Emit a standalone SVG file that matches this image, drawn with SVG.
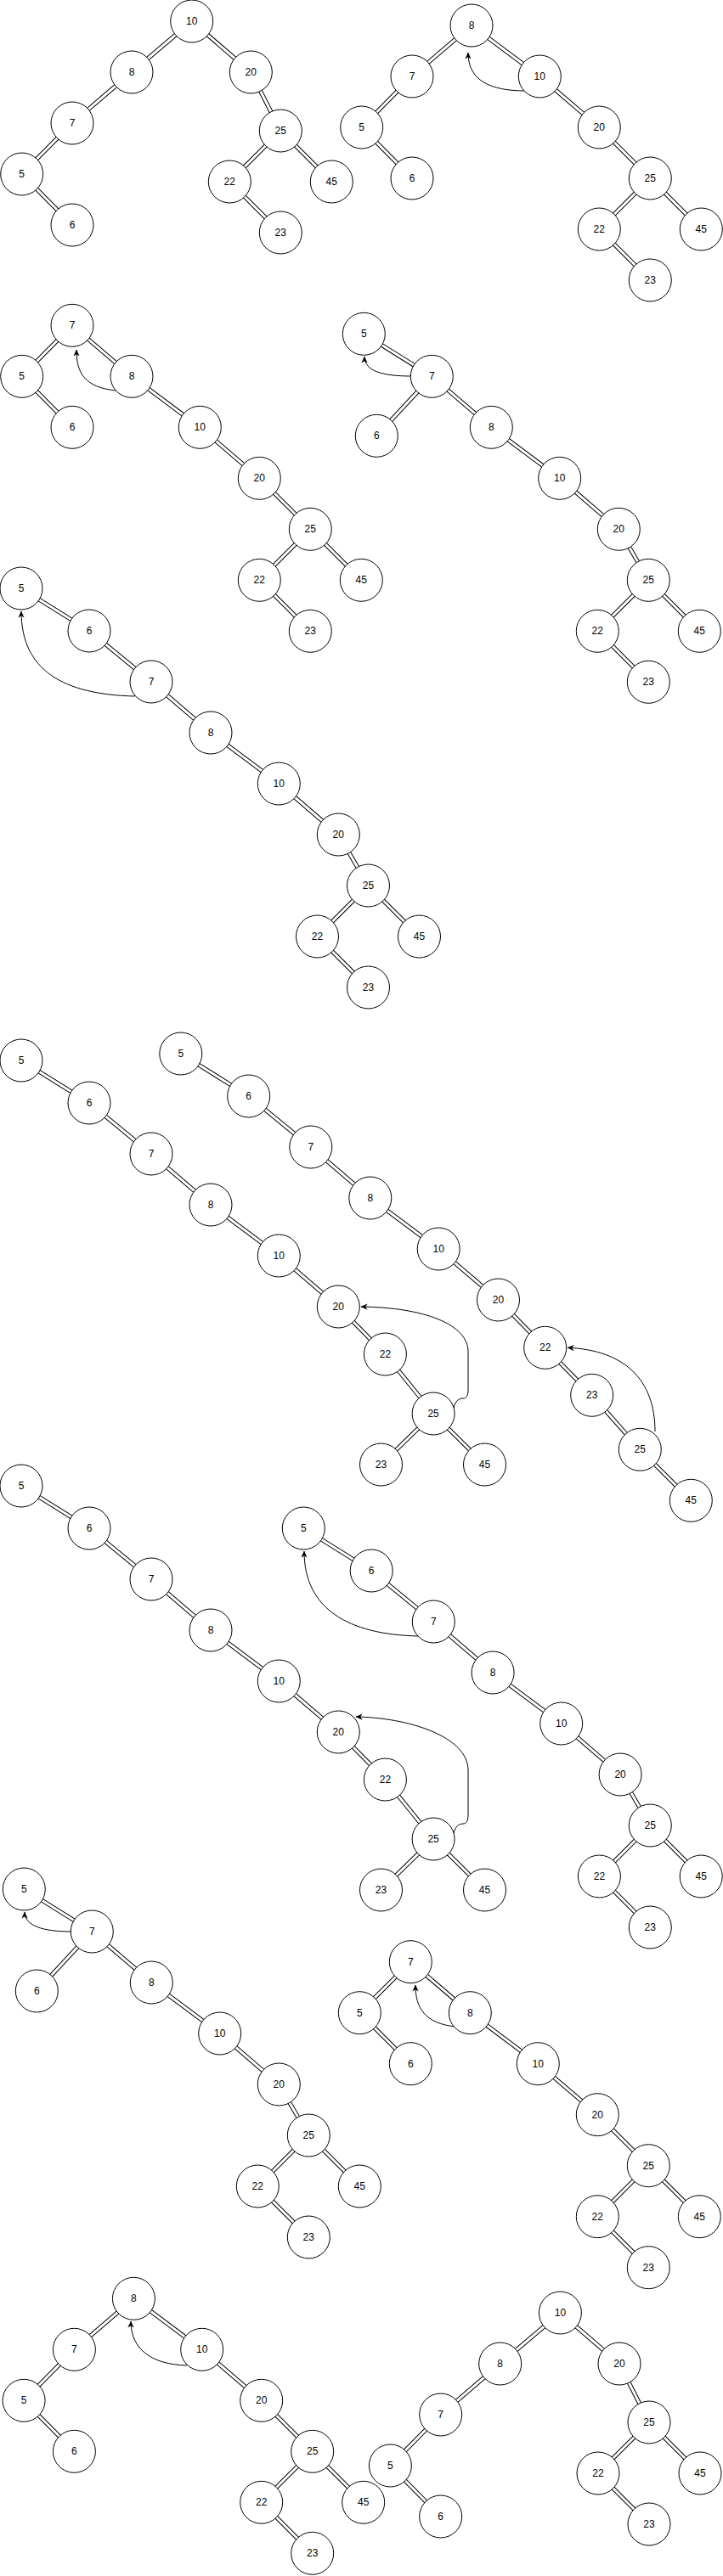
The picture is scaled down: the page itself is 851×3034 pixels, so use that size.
<svg xmlns="http://www.w3.org/2000/svg" xmlns:xlink="http://www.w3.org/1999/xlink" width="851" height="3034" viewBox="0 0 851 3034">
<style>
.o{fill:none;stroke:#000;stroke-width:5}
.i{fill:none;stroke:#fff;stroke-width:3}
.a{fill:none;stroke:#000;stroke-width:1;marker-end:url(#arr)}
g.n circle{fill:#fff;stroke:#000;stroke-width:1}
g.n text{font-family:"Liberation Sans",Arial,sans-serif;font-size:12px;text-anchor:middle;fill:#000}
</style>
<defs>
<marker id="arr" viewBox="0 0 10 10" refX="9.5" refY="5" markerWidth="8" markerHeight="8" markerUnits="userSpaceOnUse" orient="auto"><path d="M0,0.5 L10,5 L0,9.5 L3,5 z" fill="#000"/></marker>
<path id="e1" d="M225.7,25 L155,85 L85,145 L25.7,205 L85,265 M225.7,25 L295.3,85 L330.3,154 L270.3,214 L330.3,274 M330.3,154 L390.3,214"/>
<path id="e2" d="M555,30 L485,90 L425.7,150 L485,210 M555,30 L635.3,90 L705.3,150 L765.3,210 L705.3,270 L765.3,330 M765.3,210 L825.3,270"/>
<path id="e3" d="M85,383.3 L25.7,443.3 L85,503.3 M85,383.3 L155,443.3 L235.3,503.3 L305.3,563.3 L365.3,623.3 L305.3,683.3 L365.3,743.3 M365.3,623.3 L425.3,683.3"/>
<path id="e4" d="M428.3,393.3 L508.3,443.3 L443.3,513.3 M508.3,443.3 L578.3,503.3 L658.7,563.3 L728.3,623.3 L763.3,683.3 L703.3,743.3 L763.3,803.3 M763.3,683.3 L823.3,743.3"/>
<path id="e5" d="M25,693 L105,743 L178,803 L248,863 L328.3,923 L398.3,983 L433.5,1043 L373.5,1103 L433.5,1163 M433.5,1043 L493.5,1103"/>
<path id="e6" d="M25,1249 L105,1299 L178,1359 L248,1419 L328.3,1479 L398.3,1539 L453.4,1595 L510.1,1665 L448.5,1725 M510.1,1665 L570.5,1725"/>
<path id="e7" d="M212.8,1241 L292.7,1291 L365.8,1351 L435.8,1411 L516.2,1471 L586.5,1531 L641.7,1587.3 L696.7,1643.3 L753.3,1707.3 L813.3,1767.3"/>
<path id="e8" d="M25,1750 L105,1800 L178,1860 L248,1920 L328.3,1980 L398.3,2040 L453.4,2096 L510.1,2166 L448.5,2226 M510.1,2166 L570.5,2226"/>
<path id="e9" d="M357.3,1800 L437.2,1850 L510.3,1910 L580.1,1970 L660.7,2030 L730.1,2090 L765.3,2150 L705.4,2210 L765.3,2270 M765.3,2150 L825.2,2210"/>
<path id="e10" d="M28.3,2225 L108.3,2275 L43.3,2345 M108.3,2275 L178.3,2335 L258.7,2395 L328.3,2455 L363.3,2515 L303.3,2575 L363.3,2635 M363.3,2515 L423.3,2575"/>
<path id="e11" d="M483.3,2310.7 L423.3,2370.7 L483.3,2430.7 M483.3,2310.7 L553.3,2370.7 L633.3,2430.7 L703.3,2490.7 L763.3,2550.7 L703.3,2610.7 L763.3,2670.7 M763.3,2550.7 L823.3,2610.7"/>
<path id="e12" d="M157.4,2707.3 L87.4,2767.3 L28.1,2827.3 L87.4,2887.3 M157.4,2707.3 L237.7,2767.3 L307.7,2827.3 L367.7,2887.3 L307.7,2947.3 L367.7,3007.3 M367.7,2887.3 L427.7,2947.3"/>
<path id="e13" d="M659.4,2724 L588.7,2784 L518.7,2844 L459.4,2904 L518.7,2964 M659.4,2724 L729,2784 L764,2853 L704,2913 L764,2973 M764,2853 L824,2913"/>
</defs>
<g id="connectors">
<use xlink:href="#e1" class="o"/><use xlink:href="#e1" class="i"/>
<use xlink:href="#e2" class="o"/><use xlink:href="#e2" class="i"/>
<use xlink:href="#e3" class="o"/><use xlink:href="#e3" class="i"/>
<use xlink:href="#e4" class="o"/><use xlink:href="#e4" class="i"/>
<use xlink:href="#e5" class="o"/><use xlink:href="#e5" class="i"/>
<use xlink:href="#e6" class="o"/><use xlink:href="#e6" class="i"/>
<use xlink:href="#e7" class="o"/><use xlink:href="#e7" class="i"/>
<use xlink:href="#e8" class="o"/><use xlink:href="#e8" class="i"/>
<use xlink:href="#e9" class="o"/><use xlink:href="#e9" class="i"/>
<use xlink:href="#e10" class="o"/><use xlink:href="#e10" class="i"/>
<use xlink:href="#e11" class="o"/><use xlink:href="#e11" class="i"/>
<use xlink:href="#e12" class="o"/><use xlink:href="#e12" class="i"/>
<use xlink:href="#e13" class="o"/><use xlink:href="#e13" class="i"/>
<path class="a" d="M619,107 C577,107 551,95 551,62"/>
<path class="a" d="M136,460 C100,456 90,440 90,412"/>
<path class="a" d="M484,443 C450,443 429,437 429,420"/>
<path class="a" d="M159,820 C75,818 25,790 25,720"/>
<path class="a" d="M534,1658 C536,1650 540,1647 545,1647 C549,1647 551,1644 551,1636 L551,1592 C551,1560 500,1540 425,1539"/>
<path class="a" d="M771,1686 C771,1625 735,1590 668,1587.3"/>
<path class="a" d="M534,2159 C536,2151 540,2148 545,2148 C549,2148 551,2145 551,2137 L551,2085 C551,2045 480,2023 419,2022"/>
<path class="a" d="M492,1927 C410,1925 358,1895 358,1827"/>
<path class="a" d="M84,2275 C50,2275 29,2268 29,2252"/>
<path class="a" d="M536,2387 C500,2383 489,2365 489,2338"/>
<path class="a" d="M220,2786 C180,2785 154,2768 154,2734"/>
</g>
<g id="tree1">
<g class="n" id="t1-10"><circle cx="225.7" cy="25" r="25"/><text x="225.7" y="29">10</text></g>
<g class="n" id="t1-8"><circle cx="155" cy="85" r="25"/><text x="155" y="89">8</text></g>
<g class="n" id="t1-20"><circle cx="295.3" cy="85" r="25"/><text x="295.3" y="89">20</text></g>
<g class="n" id="t1-7"><circle cx="85" cy="145" r="25"/><text x="85" y="149">7</text></g>
<g class="n" id="t1-25"><circle cx="330.3" cy="154" r="25"/><text x="330.3" y="158">25</text></g>
<g class="n" id="t1-5"><circle cx="25.7" cy="205" r="25"/><text x="25.7" y="209">5</text></g>
<g class="n" id="t1-22"><circle cx="270.3" cy="214" r="25"/><text x="270.3" y="218">22</text></g>
<g class="n" id="t1-45"><circle cx="390.3" cy="214" r="25"/><text x="390.3" y="218">45</text></g>
<g class="n" id="t1-6"><circle cx="85" cy="265" r="25"/><text x="85" y="269">6</text></g>
<g class="n" id="t1-23"><circle cx="330.3" cy="274" r="25"/><text x="330.3" y="278">23</text></g>
</g>
<g id="tree2">
<g class="n" id="t2-8"><circle cx="555" cy="30" r="25"/><text x="555" y="34">8</text></g>
<g class="n" id="t2-7"><circle cx="485" cy="90" r="25"/><text x="485" y="94">7</text></g>
<g class="n" id="t2-10"><circle cx="635.3" cy="90" r="25"/><text x="635.3" y="94">10</text></g>
<g class="n" id="t2-5"><circle cx="425.7" cy="150" r="25"/><text x="425.7" y="154">5</text></g>
<g class="n" id="t2-20"><circle cx="705.3" cy="150" r="25"/><text x="705.3" y="154">20</text></g>
<g class="n" id="t2-6"><circle cx="485" cy="210" r="25"/><text x="485" y="214">6</text></g>
<g class="n" id="t2-25"><circle cx="765.3" cy="210" r="25"/><text x="765.3" y="214">25</text></g>
<g class="n" id="t2-22"><circle cx="705.3" cy="270" r="25"/><text x="705.3" y="274">22</text></g>
<g class="n" id="t2-45"><circle cx="825.3" cy="270" r="25"/><text x="825.3" y="274">45</text></g>
<g class="n" id="t2-23"><circle cx="765.3" cy="330" r="25"/><text x="765.3" y="334">23</text></g>
</g>
<g id="tree3">
<g class="n" id="t3-7"><circle cx="85" cy="383.3" r="25"/><text x="85" y="387.3">7</text></g>
<g class="n" id="t3-5"><circle cx="25.7" cy="443.3" r="25"/><text x="25.7" y="447.3">5</text></g>
<g class="n" id="t3-8"><circle cx="155" cy="443.3" r="25"/><text x="155" y="447.3">8</text></g>
<g class="n" id="t3-6"><circle cx="85" cy="503.3" r="25"/><text x="85" y="507.3">6</text></g>
<g class="n" id="t3-10"><circle cx="235.3" cy="503.3" r="25"/><text x="235.3" y="507.3">10</text></g>
<g class="n" id="t3-20"><circle cx="305.3" cy="563.3" r="25"/><text x="305.3" y="567.3">20</text></g>
<g class="n" id="t3-25"><circle cx="365.3" cy="623.3" r="25"/><text x="365.3" y="627.3">25</text></g>
<g class="n" id="t3-22"><circle cx="305.3" cy="683.3" r="25"/><text x="305.3" y="687.3">22</text></g>
<g class="n" id="t3-45"><circle cx="425.3" cy="683.3" r="25"/><text x="425.3" y="687.3">45</text></g>
<g class="n" id="t3-23"><circle cx="365.3" cy="743.3" r="25"/><text x="365.3" y="747.3">23</text></g>
</g>
<g id="tree4">
<g class="n" id="t4-5"><circle cx="428.3" cy="393.3" r="25"/><text x="428.3" y="397.3">5</text></g>
<g class="n" id="t4-7"><circle cx="508.3" cy="443.3" r="25"/><text x="508.3" y="447.3">7</text></g>
<g class="n" id="t4-6"><circle cx="443.3" cy="513.3" r="25"/><text x="443.3" y="517.3">6</text></g>
<g class="n" id="t4-8"><circle cx="578.3" cy="503.3" r="25"/><text x="578.3" y="507.3">8</text></g>
<g class="n" id="t4-10"><circle cx="658.7" cy="563.3" r="25"/><text x="658.7" y="567.3">10</text></g>
<g class="n" id="t4-20"><circle cx="728.3" cy="623.3" r="25"/><text x="728.3" y="627.3">20</text></g>
<g class="n" id="t4-25"><circle cx="763.3" cy="683.3" r="25"/><text x="763.3" y="687.3">25</text></g>
<g class="n" id="t4-22"><circle cx="703.3" cy="743.3" r="25"/><text x="703.3" y="747.3">22</text></g>
<g class="n" id="t4-45"><circle cx="823.3" cy="743.3" r="25"/><text x="823.3" y="747.3">45</text></g>
<g class="n" id="t4-23"><circle cx="763.3" cy="803.3" r="25"/><text x="763.3" y="807.3">23</text></g>
</g>
<g id="tree5">
<g class="n" id="t5-5"><circle cx="25" cy="693" r="25"/><text x="25" y="697">5</text></g>
<g class="n" id="t5-6"><circle cx="105" cy="743" r="25"/><text x="105" y="747">6</text></g>
<g class="n" id="t5-7"><circle cx="178" cy="803" r="25"/><text x="178" y="807">7</text></g>
<g class="n" id="t5-8"><circle cx="248" cy="863" r="25"/><text x="248" y="867">8</text></g>
<g class="n" id="t5-10"><circle cx="328.3" cy="923" r="25"/><text x="328.3" y="927">10</text></g>
<g class="n" id="t5-20"><circle cx="398.3" cy="983" r="25"/><text x="398.3" y="987">20</text></g>
<g class="n" id="t5-25"><circle cx="433.5" cy="1043" r="25"/><text x="433.5" y="1047">25</text></g>
<g class="n" id="t5-22"><circle cx="373.5" cy="1103" r="25"/><text x="373.5" y="1107">22</text></g>
<g class="n" id="t5-45"><circle cx="493.5" cy="1103" r="25"/><text x="493.5" y="1107">45</text></g>
<g class="n" id="t5-23"><circle cx="433.5" cy="1163" r="25"/><text x="433.5" y="1167">23</text></g>
</g>
<g id="tree6">
<g class="n" id="t6-5"><circle cx="25" cy="1249" r="25"/><text x="25" y="1253">5</text></g>
<g class="n" id="t6-6"><circle cx="105" cy="1299" r="25"/><text x="105" y="1303">6</text></g>
<g class="n" id="t6-7"><circle cx="178" cy="1359" r="25"/><text x="178" y="1363">7</text></g>
<g class="n" id="t6-8"><circle cx="248" cy="1419" r="25"/><text x="248" y="1423">8</text></g>
<g class="n" id="t6-10"><circle cx="328.3" cy="1479" r="25"/><text x="328.3" y="1483">10</text></g>
<g class="n" id="t6-20"><circle cx="398.3" cy="1539" r="25"/><text x="398.3" y="1543">20</text></g>
<g class="n" id="t6-22"><circle cx="453.4" cy="1595" r="25"/><text x="453.4" y="1599">22</text></g>
<g class="n" id="t6-25"><circle cx="510.1" cy="1665" r="25"/><text x="510.1" y="1669">25</text></g>
<g class="n" id="t6-23"><circle cx="448.5" cy="1725" r="25"/><text x="448.5" y="1729">23</text></g>
<g class="n" id="t6-45"><circle cx="570.5" cy="1725" r="25"/><text x="570.5" y="1729">45</text></g>
</g>
<g id="tree7">
<g class="n" id="t7-5"><circle cx="212.8" cy="1241" r="25"/><text x="212.8" y="1245">5</text></g>
<g class="n" id="t7-6"><circle cx="292.7" cy="1291" r="25"/><text x="292.7" y="1295">6</text></g>
<g class="n" id="t7-7"><circle cx="365.8" cy="1351" r="25"/><text x="365.8" y="1355">7</text></g>
<g class="n" id="t7-8"><circle cx="435.8" cy="1411" r="25"/><text x="435.8" y="1415">8</text></g>
<g class="n" id="t7-10"><circle cx="516.2" cy="1471" r="25"/><text x="516.2" y="1475">10</text></g>
<g class="n" id="t7-20"><circle cx="586.5" cy="1531" r="25"/><text x="586.5" y="1535">20</text></g>
<g class="n" id="t7-22"><circle cx="641.7" cy="1587.3" r="25"/><text x="641.7" y="1591.3">22</text></g>
<g class="n" id="t7-23"><circle cx="696.7" cy="1643.3" r="25"/><text x="696.7" y="1647.3">23</text></g>
<g class="n" id="t7-25"><circle cx="753.3" cy="1707.3" r="25"/><text x="753.3" y="1711.3">25</text></g>
<g class="n" id="t7-45"><circle cx="813.3" cy="1767.3" r="25"/><text x="813.3" y="1771.3">45</text></g>
</g>
<g id="tree8">
<g class="n" id="t8-5"><circle cx="25" cy="1750" r="25"/><text x="25" y="1754">5</text></g>
<g class="n" id="t8-6"><circle cx="105" cy="1800" r="25"/><text x="105" y="1804">6</text></g>
<g class="n" id="t8-7"><circle cx="178" cy="1860" r="25"/><text x="178" y="1864">7</text></g>
<g class="n" id="t8-8"><circle cx="248" cy="1920" r="25"/><text x="248" y="1924">8</text></g>
<g class="n" id="t8-10"><circle cx="328.3" cy="1980" r="25"/><text x="328.3" y="1984">10</text></g>
<g class="n" id="t8-20"><circle cx="398.3" cy="2040" r="25"/><text x="398.3" y="2044">20</text></g>
<g class="n" id="t8-22"><circle cx="453.4" cy="2096" r="25"/><text x="453.4" y="2100">22</text></g>
<g class="n" id="t8-25"><circle cx="510.1" cy="2166" r="25"/><text x="510.1" y="2170">25</text></g>
<g class="n" id="t8-23"><circle cx="448.5" cy="2226" r="25"/><text x="448.5" y="2230">23</text></g>
<g class="n" id="t8-45"><circle cx="570.5" cy="2226" r="25"/><text x="570.5" y="2230">45</text></g>
</g>
<g id="tree9">
<g class="n" id="t9-5"><circle cx="357.3" cy="1800" r="25"/><text x="357.3" y="1804">5</text></g>
<g class="n" id="t9-6"><circle cx="437.2" cy="1850" r="25"/><text x="437.2" y="1854">6</text></g>
<g class="n" id="t9-7"><circle cx="510.3" cy="1910" r="25"/><text x="510.3" y="1914">7</text></g>
<g class="n" id="t9-8"><circle cx="580.1" cy="1970" r="25"/><text x="580.1" y="1974">8</text></g>
<g class="n" id="t9-10"><circle cx="660.7" cy="2030" r="25"/><text x="660.7" y="2034">10</text></g>
<g class="n" id="t9-20"><circle cx="730.1" cy="2090" r="25"/><text x="730.1" y="2094">20</text></g>
<g class="n" id="t9-25"><circle cx="765.3" cy="2150" r="25"/><text x="765.3" y="2154">25</text></g>
<g class="n" id="t9-22"><circle cx="705.4" cy="2210" r="25"/><text x="705.4" y="2214">22</text></g>
<g class="n" id="t9-45"><circle cx="825.2" cy="2210" r="25"/><text x="825.2" y="2214">45</text></g>
<g class="n" id="t9-23"><circle cx="765.3" cy="2270" r="25"/><text x="765.3" y="2274">23</text></g>
</g>
<g id="tree10">
<g class="n" id="t10-5"><circle cx="28.3" cy="2225" r="25"/><text x="28.3" y="2229">5</text></g>
<g class="n" id="t10-7"><circle cx="108.3" cy="2275" r="25"/><text x="108.3" y="2279">7</text></g>
<g class="n" id="t10-6"><circle cx="43.3" cy="2345" r="25"/><text x="43.3" y="2349">6</text></g>
<g class="n" id="t10-8"><circle cx="178.3" cy="2335" r="25"/><text x="178.3" y="2339">8</text></g>
<g class="n" id="t10-10"><circle cx="258.7" cy="2395" r="25"/><text x="258.7" y="2399">10</text></g>
<g class="n" id="t10-20"><circle cx="328.3" cy="2455" r="25"/><text x="328.3" y="2459">20</text></g>
<g class="n" id="t10-25"><circle cx="363.3" cy="2515" r="25"/><text x="363.3" y="2519">25</text></g>
<g class="n" id="t10-22"><circle cx="303.3" cy="2575" r="25"/><text x="303.3" y="2579">22</text></g>
<g class="n" id="t10-45"><circle cx="423.3" cy="2575" r="25"/><text x="423.3" y="2579">45</text></g>
<g class="n" id="t10-23"><circle cx="363.3" cy="2635" r="25"/><text x="363.3" y="2639">23</text></g>
</g>
<g id="tree11">
<g class="n" id="t11-7"><circle cx="483.3" cy="2310.7" r="25"/><text x="483.3" y="2314.7">7</text></g>
<g class="n" id="t11-5"><circle cx="423.3" cy="2370.7" r="25"/><text x="423.3" y="2374.7">5</text></g>
<g class="n" id="t11-8"><circle cx="553.3" cy="2370.7" r="25"/><text x="553.3" y="2374.7">8</text></g>
<g class="n" id="t11-6"><circle cx="483.3" cy="2430.7" r="25"/><text x="483.3" y="2434.7">6</text></g>
<g class="n" id="t11-10"><circle cx="633.3" cy="2430.7" r="25"/><text x="633.3" y="2434.7">10</text></g>
<g class="n" id="t11-20"><circle cx="703.3" cy="2490.7" r="25"/><text x="703.3" y="2494.7">20</text></g>
<g class="n" id="t11-25"><circle cx="763.3" cy="2550.7" r="25"/><text x="763.3" y="2554.7">25</text></g>
<g class="n" id="t11-22"><circle cx="703.3" cy="2610.7" r="25"/><text x="703.3" y="2614.7">22</text></g>
<g class="n" id="t11-45"><circle cx="823.3" cy="2610.7" r="25"/><text x="823.3" y="2614.7">45</text></g>
<g class="n" id="t11-23"><circle cx="763.3" cy="2670.7" r="25"/><text x="763.3" y="2674.7">23</text></g>
</g>
<g id="tree12">
<g class="n" id="t12-8"><circle cx="157.4" cy="2707.3" r="25"/><text x="157.4" y="2711.3">8</text></g>
<g class="n" id="t12-7"><circle cx="87.4" cy="2767.3" r="25"/><text x="87.4" y="2771.3">7</text></g>
<g class="n" id="t12-10"><circle cx="237.7" cy="2767.3" r="25"/><text x="237.7" y="2771.3">10</text></g>
<g class="n" id="t12-5"><circle cx="28.1" cy="2827.3" r="25"/><text x="28.1" y="2831.3">5</text></g>
<g class="n" id="t12-20"><circle cx="307.7" cy="2827.3" r="25"/><text x="307.7" y="2831.3">20</text></g>
<g class="n" id="t12-6"><circle cx="87.4" cy="2887.3" r="25"/><text x="87.4" y="2891.3">6</text></g>
<g class="n" id="t12-25"><circle cx="367.7" cy="2887.3" r="25"/><text x="367.7" y="2891.3">25</text></g>
<g class="n" id="t12-22"><circle cx="307.7" cy="2947.3" r="25"/><text x="307.7" y="2951.3">22</text></g>
<g class="n" id="t12-45"><circle cx="427.7" cy="2947.3" r="25"/><text x="427.7" y="2951.3">45</text></g>
<g class="n" id="t12-23"><circle cx="367.7" cy="3007.3" r="25"/><text x="367.7" y="3011.3">23</text></g>
</g>
<g id="tree13">
<g class="n" id="t13-10"><circle cx="659.4" cy="2724" r="25"/><text x="659.4" y="2728">10</text></g>
<g class="n" id="t13-8"><circle cx="588.7" cy="2784" r="25"/><text x="588.7" y="2788">8</text></g>
<g class="n" id="t13-20"><circle cx="729" cy="2784" r="25"/><text x="729" y="2788">20</text></g>
<g class="n" id="t13-7"><circle cx="518.7" cy="2844" r="25"/><text x="518.7" y="2848">7</text></g>
<g class="n" id="t13-25"><circle cx="764" cy="2853" r="25"/><text x="764" y="2857">25</text></g>
<g class="n" id="t13-5"><circle cx="459.4" cy="2904" r="25"/><text x="459.4" y="2908">5</text></g>
<g class="n" id="t13-22"><circle cx="704" cy="2913" r="25"/><text x="704" y="2917">22</text></g>
<g class="n" id="t13-45"><circle cx="824" cy="2913" r="25"/><text x="824" y="2917">45</text></g>
<g class="n" id="t13-6"><circle cx="518.7" cy="2964" r="25"/><text x="518.7" y="2968">6</text></g>
<g class="n" id="t13-23"><circle cx="764" cy="2973" r="25"/><text x="764" y="2977">23</text></g>
</g>
</svg>
